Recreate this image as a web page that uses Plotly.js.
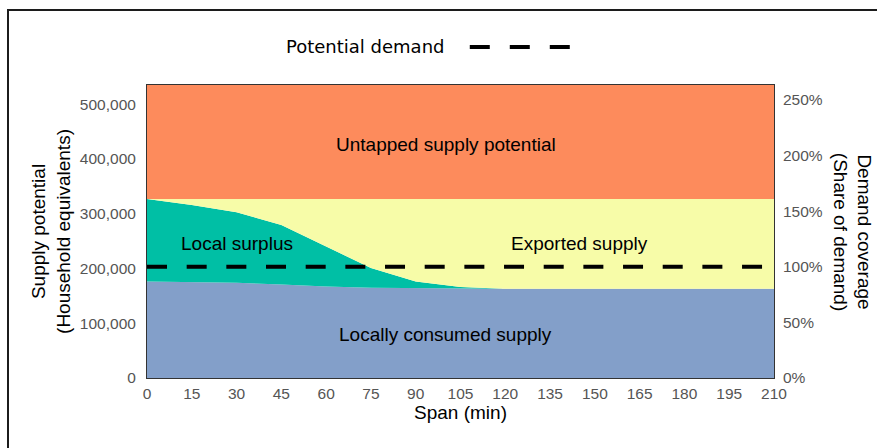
<!DOCTYPE html>
<html><head><meta charset="utf-8">
<script src="https://cdn.plot.ly/plotly-3.0.1.min.js"></script>
<style>
html,body{margin:0;padding:0;background:#fff;overflow:hidden}
#chart{width:877px;height:448px}
#frame{position:absolute;left:7px;top:9px;width:1000px;height:1000px;border:2px solid #1c1c1c;pointer-events:none;box-sizing:border-box}
</style></head>
<body><div id="chart"></div><div id="frame"></div>
<script>
// Span (min)
const spanMin = [0, 15, 30, 45, 60, 75, 90, 105, 120, 135, 150, 165, 180, 195, 210];
// Household equivalents
const locallyConsumed = [176000, 175500, 174000, 170500, 167000, 165000, 164000, 163500, 163000, 163000, 163000, 163000, 163000, 163000, 163000];
const localSurplus    = [151000, 140500, 128500, 109000, 73000, 36000, 12000, 2500, 0, 0, 0, 0, 0, 0, 0];
const exportedSupply  = [0, 11000, 24500, 47500, 87000, 126000, 151000, 161000, 164000, 164000, 164000, 164000, 164000, 164000, 164000];
const untappedSupply  = [208000, 208000, 208000, 208000, 208000, 208000, 208000, 208000, 208000, 208000, 208000, 208000, 208000, 208000, 208000];
const potentialDemand = 203000;
const demandShare = [1, 1];
const demandSpan = [0, 210];
const xTicks = [0, 15, 30, 45, 60, 75, 90, 105, 120, 135, 150, 165, 180, 195, 210];
const yMax = 535000;

const seriesNames = ['Locally consumed supply', 'Local surplus', 'Exported supply', 'Untapped supply potential'];
const seriesColors = ['#839fc9', '#00bfa5', '#f7fca8', '#fd8b5c'];
const seriesData = [locallyConsumed, localSurplus, exportedSupply, untappedSupply];

const traces = seriesData.map((vals, i) => ({
  type: 'scatter', mode: 'lines', x: spanMin, y: vals, name: seriesNames[i],
  stackgroup: 'supply', line: {width: 0}, fillcolor: seriesColors[i],
  showlegend: false, hoverinfo: 'skip'
}));
traces.push({
  type: 'scatter', mode: 'lines', x: demandSpan, y: demandShare, yaxis: 'y2',
  name: 'Potential demand', line: {color: '#000', width: 4, dash: '20px,19.67px'},
  showlegend: false, hoverinfo: 'skip'
});

const tickFont = {family: 'Liberation Sans, Arial, sans-serif', size: 15.5, color: '#555'};
const titleFont = {family: 'Liberation Sans, Arial, sans-serif', size: 19, color: '#000'};

const layout = {
  width: 877, height: 448,
  margin: {l: 147, r: 103, t: 85, b: 70},
  paper_bgcolor: '#fff', plot_bgcolor: '#fff',
  showlegend: false,
  xaxis: {
    range: [0, 210], tickvals: xTicks, ticktext: xTicks.map(String),
    showgrid: false, zeroline: false, showline: true, mirror: true,
    linecolor: '#333', linewidth: 1, ticks: '', tickfont: tickFont, ticklabelstandoff: 1,
    title: {text: 'Span (min)', font: titleFont, standoff: 5}
  },
  yaxis: {
    range: [0, yMax], tickvals: [0, 100000, 200000, 300000, 400000, 500000],
    ticktext: ['0', '100,000', '200,000', '300,000', '400,000', '500,000'],
    showgrid: false, zeroline: false, showline: true, mirror: true,
    linecolor: '#333', linewidth: 1, ticks: '', tickfont: tickFont, ticklabelstandoff: 7,
    title: {text: 'Supply potential<br>(Household equivalents)', font: titleFont, standoff: 4}
  },
  yaxis2: {
    overlaying: 'y', side: 'right', range: [0, yMax / potentialDemand],
    tickvals: [0, 0.5, 1, 1.5, 2, 2.5], ticktext: ['0%', '50%', '100%', '150%', '200%', '250%'],
    showgrid: false, zeroline: false, showline: false, ticks: '', tickfont: tickFont, ticklabelstandoff: 8
  },
  annotations: [
    {xref: 'x', yref: 'y', x: 100, y: 427000, text: 'Untapped supply potential', showarrow: false, font: titleFont},
    {xref: 'x', yref: 'y', x: 30, y: 246500, text: 'Local surplus', showarrow: false, font: titleFont},
    {xref: 'x', yref: 'y', x: 145, y: 246500, text: 'Exported supply', showarrow: false, font: titleFont},
    {xref: 'x', yref: 'y', x: 100, y: 80300, text: 'Locally consumed supply', showarrow: false, font: titleFont},
    {xref: 'paper', yref: 'paper', x: 1.1255, y: 0.5, xanchor: 'center', yanchor: 'middle', textangle: 90,
     text: 'Demand coverage<br>(Share of demand)', showarrow: false, font: titleFont},
    {xref: 'paper', yref: 'paper', x: 0.2185, y: 1.1297, xanchor: 'left', yanchor: 'middle',
     text: 'Potential demand', showarrow: false, font: {family: 'DejaVu Sans', size: 18, color: '#000'}}
  ],
  shapes: [
    {type: 'line', xref: 'paper', yref: 'paper', x0: 0.5148, x1: 0.6744, y0: 1.1297, y1: 1.1297,
     line: {color: '#000', width: 4, dash: '20px,20px'}}
  ]
};

Plotly.newPlot('chart', traces, layout, {staticPlot: true, displayModeBar: false});
</script>
</body></html>
